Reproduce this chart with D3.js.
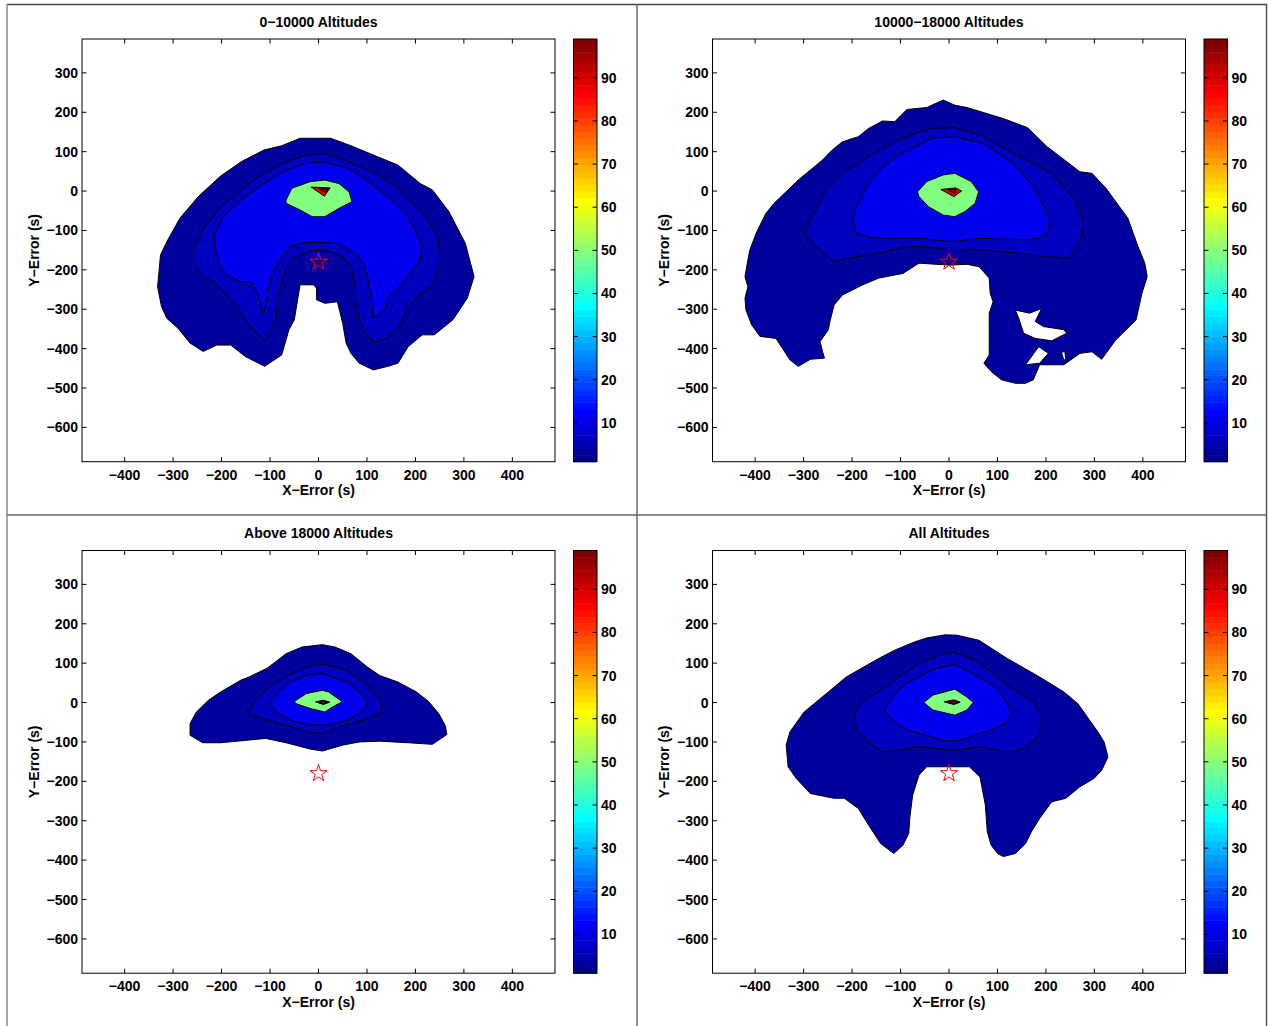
<!DOCTYPE html>
<html><head><meta charset="utf-8">
<script src="https://cdn.jsdelivr.net/npm/d3@7"></script>
<style>
body{margin:0;background:#fff}
svg{display:block}
text{font-family:"Liberation Sans",Arial,Helvetica,sans-serif;font-weight:bold;fill:#000}
</style>
</head><body>
<svg id="chart" width="1268" height="1026"></svg>
<script>
// ---------------- data ----------------
const titles = ["0\u221210000 Altitudes", "10000\u221218000 Altitudes", "Above 18000 Altitudes", "All Altitudes"];
const xLabel = "X\u2212Error (s)";
const yLabel = "Y\u2212Error (s)";
const xTicks = [-400, -300, -200, -100, 0, 100, 200, 300, 400];
const yTicks = [-600, -500, -400, -300, -200, -100, 0, 100, 200, 300];
const cbTicks = [10, 20, 30, 40, 50, 60, 70, 80, 90];
const xDomain = [-488, 488];
const yDomain = [-687, 386];
const cbDomain = [1, 99];
// value used to colour each filled contour band (outer -> peak)
const levelValues = [3, 6, 11, 49, 89, 96];
const starPoint = [0, -180];

// Panel 1: 0-10000
const p1Outer = [[-38,134],[25,134],[67,115],[122,87],[164,66],[210,19],[235,3],[269,-52],[303,-133],[321,-217],[307,-272],[277,-327],[239,-365],[214,-365],[185,-395],[164,-437],[143,-445],[113,-454],[84,-437],[67,-412],[57,-386],[50,-336],[39,-281],[13,-285],[-4,-276],[-4,-247],[-10,-238],[-38,-238],[-50,-327],[-61,-352],[-76,-416],[-111,-445],[-151,-420],[-181,-391],[-210,-391],[-238,-407],[-265,-386],[-290,-348],[-313,-323],[-324,-293],[-332,-243],[-326,-162],[-311,-124],[-286,-69],[-248,-14],[-202,38],[-160,74],[-113,104],[-76,115]];
const p1Mid = [[13,96],[63,74],[118,45],[164,7],[193,-31],[227,-74],[248,-124],[250,-183],[237,-238],[210,-260],[185,-293],[164,-348],[143,-374],[113,-384],[97,-361],[84,-327],[77,-276],[76,-238],[67,-192],[50,-167],[17,-151],[-17,-151],[-50,-167],[-67,-192],[-76,-234],[-84,-276],[-88,-327],[-97,-352],[-111,-382],[-134,-352],[-151,-327],[-168,-293],[-193,-260],[-213,-232],[-239,-217],[-254,-192],[-254,-141],[-239,-99],[-202,-40],[-160,3],[-113,45],[-67,74],[-29,90]];
const p1Inner = [[13,74],[63,57],[109,19],[151,-23],[185,-65],[214,-137],[210,-175],[185,-217],[164,-247],[143,-272],[139,-298],[113,-323],[109,-276],[103,-226],[92,-183],[76,-158],[42,-133],[-8,-130],[-42,-133],[-59,-141],[-76,-167],[-97,-209],[-105,-260],[-109,-285],[-113,-312],[-118,-293],[-126,-260],[-139,-230],[-160,-230],[-185,-217],[-202,-192],[-214,-141],[-214,-107],[-197,-65],[-160,-23],[-113,19],[-67,53],[-29,70]];
const p1Core = [[-67,-23],[-55,7],[-17,24],[13,28],[42,19],[63,-2],[69,-27],[42,-44],[13,-65],[-13,-65],[-38,-48],[-67,-31]];
const p1Peak = [[-15,10],[24,8],[12,-13]];
const p1Max = [[2,5],[20,6],[14,-4]];

// Panel 2: 10000-18000
const p2Outer = [[-12,231],[12,218],[37,212],[112,184],[162,161],[203,112],[270,49],[295,45],[324,7],[369,-69],[390,-141],[404,-183],[409,-217],[398,-260],[386,-327],[344,-378],[315,-427],[295,-408],[270,-412],[237,-441],[187,-441],[174,-479],[158,-488],[137,-488],[108,-479],[87,-458],[72,-437],[83,-416],[83,-310],[91,-281],[85,-260],[83,-221],[62,-192],[37,-186],[0,-188],[-62,-183],[-95,-209],[-145,-221],[-178,-238],[-220,-264],[-237,-289],[-245,-327],[-249,-352],[-266,-382],[-261,-407],[-257,-424],[-286,-427],[-311,-445],[-328,-429],[-357,-374],[-390,-369],[-407,-340],[-419,-302],[-421,-272],[-415,-243],[-421,-217],[-415,-175],[-411,-150],[-398,-107],[-378,-57],[-361,-31],[-311,28],[-261,79],[-241,104],[-220,125],[-187,138],[-166,159],[-137,178],[-112,176],[-87,207],[-46,212]];
const p2HoleA = [[137,-302],[166,-310],[191,-298],[178,-331],[195,-344],[237,-352],[243,-361],[212,-380],[178,-374],[154,-361],[145,-327]];
const p2HoleB = [[158,-441],[185,-395],[205,-412],[187,-437]];
const p2HoleC = [[232,-410],[239,-407],[241,-427],[237,-429]];
const p2Mid = [[-37,159],[12,161],[66,142],[108,112],[166,74],[212,45],[261,-23],[278,-78],[274,-116],[249,-171],[203,-167],[145,-158],[71,-150],[0,-148],[-62,-141],[-91,-141],[-145,-158],[-212,-171],[-237,-179],[-282,-133],[-295,-107],[-282,-65],[-253,3],[-212,53],[-162,91],[-104,129],[-62,150]];
const p2Inner = [[-37,134],[12,138],[71,121],[133,70],[174,11],[199,-48],[208,-78],[203,-103],[187,-120],[158,-124],[71,-120],[4,-128],[-62,-120],[-112,-120],[-162,-118],[-191,-107],[-199,-74],[-191,-40],[-170,11],[-145,53],[-104,91],[-62,117]];
const p2Core = [[-65,-2],[-46,24],[-12,41],[12,45],[46,24],[61,-2],[54,-31],[33,-52],[12,-65],[-12,-61],[-42,-40],[-62,-14]];
const p2Peak = [[-17,4],[14,8],[26,0],[10,-14]];
const p2Max = [[-2,3],[14,5],[12,-6]];

// Panel 3: above 18000
const p3Outer = [[8,147],[34,141],[67,124],[101,90],[126,69],[164,52],[202,27],[227,3],[248,-28],[261,-57],[265,-81],[235,-106],[185,-102],[126,-98],[84,-100],[50,-108],[8,-123],[-17,-118],[-67,-102],[-109,-91],[-151,-96],[-202,-102],[-239,-102],[-265,-83],[-265,-53],[-252,-24],[-227,6],[-202,27],[-160,57],[-143,65],[-105,88],[-67,124],[-34,141]];
const p3Mid = [[13,97],[59,82],[101,44],[132,-3],[130,-24],[92,-45],[42,-62],[8,-79],[-25,-74],[-67,-57],[-118,-41],[-143,-28],[-134,2],[-101,40],[-63,69],[-25,90]];
const p3Inner = [[8,74],[59,52],[88,23],[101,0],[88,-24],[59,-45],[17,-57],[-17,-57],[-59,-45],[-88,-24],[-101,0],[-80,31],[-59,52],[-25,69]];
const p3Core = [[-50,3],[-25,23],[8,31],[21,27],[49,2],[29,-11],[13,-24],[-17,-15],[-46,-3]];
const p3Peak = [[-6,2],[10,6],[23,1],[10,-5]];
const p3Max = [[-2,1],[10,4],[19,1],[10,-3]];

// Panel 4: all altitudes
const p4Outer = [[-8,172],[17,171],[62,158],[120,112],[187,65],[237,27],[266,-3],[307,-74],[320,-100],[328,-138],[315,-172],[299,-193],[270,-214],[241,-243],[212,-252],[187,-294],[170,-328],[158,-358],[137,-383],[112,-391],[100,-383],[87,-362],[79,-328],[75,-260],[64,-189],[42,-163],[0,-163],[-46,-163],[-62,-184],[-75,-235],[-81,-294],[-83,-332],[-95,-362],[-114,-383],[-141,-358],[-166,-311],[-187,-269],[-216,-243],[-237,-243],[-286,-231],[-315,-193],[-332,-163],[-336,-108],[-328,-74],[-299,-24],[-249,27],[-212,65],[-145,112],[-112,133],[-71,154],[-46,164]];
const p4Mid = [[12,127],[62,103],[120,44],[174,2],[187,-28],[187,-79],[166,-108],[137,-123],[116,-125],[62,-112],[12,-121],[-62,-112],[-95,-119],[-137,-125],[-166,-100],[-191,-66],[-195,-28],[-178,2],[-141,31],[-112,57],[-62,99],[-12,124]];
const p4Inner = [[12,97],[62,65],[95,40],[112,14],[130,-28],[116,-53],[87,-70],[62,-79],[37,-91],[12,-98],[-12,-96],[-46,-83],[-87,-70],[-112,-49],[-133,-24],[-125,2],[-95,44],[-62,65],[-29,86]];
const p4Core = [[-52,0],[-33,19],[12,34],[37,14],[50,0],[37,-19],[12,-32],[-33,-19]];
const p4Peak = [[-10,2],[10,7],[23,1],[10,-5]];
const p4Max = [[-5,1],[10,4],[19,1],[10,-3]];

const panelLevels = [
  [p1Outer, p1Mid, p1Inner, p1Core, p1Peak, p1Max],
  [p2Outer, p2Mid, p2Inner, p2Core, p2Peak, p2Max],
  [p3Outer, p3Mid, p3Inner, p3Core, p3Peak, p3Max],
  [p4Outer, p4Mid, p4Inner, p4Core, p4Peak, p4Max]
];
const panelHoles = [[], [p2HoleA, p2HoleB, p2HoleC], [], []];

// ---------------- jet colormap (64) ----------------
function jetTable(m) {
  const n = Math.ceil(m / 4);
  const u = [];
  for (let k = 1; k <= n; k++) u.push(k / n);
  for (let k = 1; k <= n - 1; k++) u.push(1);
  for (let k = n; k >= 1; k--) u.push(k / n);
  const g0 = Math.ceil(n / 2) - (m % 4 === 1 ? 1 : 0);
  const J = d3.range(m).map(() => [0, 0, 0]);
  u.forEach((val, k) => {
    const gi = g0 + k + 1, ri = gi + n, bi = gi - n;
    if (gi >= 1 && gi <= m) J[gi - 1][1] = val;
    if (ri >= 1 && ri <= m) J[ri - 1][0] = val;
    if (bi >= 1 && bi <= m) J[bi - 1][2] = val;
  });
  return J.map(c => d3.rgb(c[0] * 255, c[1] * 255, c[2] * 255).formatHex());
}
const JET = jetTable(64);
function jetColor(v) {
  const i = Math.max(0, Math.min(63, Math.floor((v - cbDomain[0]) / (cbDomain[1] - cbDomain[0]) * 64)));
  return JET[i];
}

// ---------------- drawing ----------------
const svg = d3.select("#chart");
const FS = 14;

// panel frames
const frame = svg.append("g").attr("fill", "none");
frame.append("line").attr("x1", 7).attr("x2", 1266.5).attr("y1", 4.5).attr("y2", 4.5).attr("stroke", "#444").attr("stroke-width", 1.5);
frame.append("line").attr("x1", 7).attr("x2", 7).attr("y1", 4).attr("y2", 1026).attr("stroke", "#8a8a8a").attr("stroke-width", 1.5);
frame.append("line").attr("x1", 637).attr("x2", 637).attr("y1", 4).attr("y2", 1026).attr("stroke", "#666").attr("stroke-width", 1.5);
frame.append("line").attr("x1", 7).attr("x2", 1266.5).attr("y1", 515).attr("y2", 515).attr("stroke", "#666").attr("stroke-width", 1.5);
frame.append("line").attr("x1", 1266.5).attr("x2", 1266.5).attr("y1", 4).attr("y2", 1026).attr("stroke", "#555").attr("stroke-width", 1.5);

const axW = 473, axH = 422.7;
const cbW = 23.5, cbGap = 18.5;
const tickLen = 4.5;

function starPath(cx, cy, R) {
  const r = R * 0.382;
  const pts = [];
  for (let k = 0; k < 10; k++) {
    const a = -Math.PI / 2 + k * Math.PI / 5;
    const rr = k % 2 === 0 ? R : r;
    pts.push([cx + rr * Math.cos(a), cy + rr * Math.sin(a)]);
  }
  return "M" + pts.map(p => p.join(",")).join("L") + "Z";
}
const fmt = t => t < 0 ? "\u2212" + Math.abs(t) : String(t);

for (let p = 0; p < 4; p++) {
  const col = p % 2, row = Math.floor(p / 2);
  const left = 82 + col * 630.5, top = 39 + row * 511.5;
  const g = svg.append("g");
  const x = d3.scaleLinear().domain(xDomain).range([left, left + axW]);
  const y = d3.scaleLinear().domain(yDomain).range([top + axH, top]);
  const line = d3.line().x(d => x(d[0])).y(d => y(d[1]));

  g.append("clipPath").attr("id", "clip" + p)
    .append("rect").attr("x", left).attr("y", top).attr("width", axW).attr("height", axH);
  const plot = g.append("g").attr("clip-path", `url(#clip${p})`);

  const levels = panelLevels[p];
  const drawPoly = (poly, fill) => plot.append("path")
    .attr("d", line(poly) + "Z")
    .attr("fill", fill).attr("stroke", "#000").attr("stroke-width", 1).attr("stroke-linejoin", "round");

  drawPoly(levels[0], jetColor(levelValues[0]));
  panelHoles[p].forEach(h => drawPoly(h, "#fff"));
  for (let i = 1; i < levels.length; i++) drawPoly(levels[i], jetColor(levelValues[i]));

  // star marker
  plot.append("path").attr("d", starPath(x(starPoint[0]), y(starPoint[1]), 9))
    .attr("fill", "none").attr("stroke", "#ff0000").attr("stroke-width", 1);

  // axes box
  g.append("rect").attr("x", left).attr("y", top).attr("width", axW).attr("height", axH)
    .attr("fill", "none").attr("stroke", "#000").attr("stroke-width", 1);

  // ticks (inward, all four sides)
  xTicks.forEach(t => {
    const xx = x(t);
    g.append("line").attr("x1", xx).attr("x2", xx).attr("y1", top + axH).attr("y2", top + axH - tickLen).attr("stroke", "#000");
    g.append("line").attr("x1", xx).attr("x2", xx).attr("y1", top).attr("y2", top + tickLen).attr("stroke", "#000");
    g.append("text").attr("x", xx).attr("y", top + axH + 18).attr("text-anchor", "middle")
      .attr("font-size", FS).text(fmt(t));
  });
  yTicks.forEach(t => {
    const yy = y(t);
    g.append("line").attr("x1", left).attr("x2", left + tickLen).attr("y1", yy).attr("y2", yy).attr("stroke", "#000");
    g.append("line").attr("x1", left + axW).attr("x2", left + axW - tickLen).attr("y1", yy).attr("y2", yy).attr("stroke", "#000");
    g.append("text").attr("x", left - 4).attr("y", yy + 5).attr("text-anchor", "end")
      .attr("font-size", FS).text(fmt(t));
  });

  // titles and labels
  g.append("text").attr("x", left + axW / 2).attr("y", top - 12.5).attr("text-anchor", "middle")
    .attr("font-size", FS).text(titles[p]);
  g.append("text").attr("x", left + axW / 2).attr("y", top + axH + 33.5).attr("text-anchor", "middle")
    .attr("font-size", FS).text(xLabel);
  g.append("text").attr("transform", `translate(${left - 43.5},${top + axH / 2}) rotate(-90)`)
    .attr("text-anchor", "middle").attr("font-size", FS).text(yLabel);

  // colorbar
  const cbx = left + axW + cbGap;
  const cy = d3.scaleLinear().domain(cbDomain).range([top + axH, top]);
  const step = (cbDomain[1] - cbDomain[0]) / 64;
  const cbg = g.append("g");
  cbg.selectAll("rect.band").data(JET).join("rect").attr("class", "band")
    .attr("x", cbx).attr("width", cbW)
    .attr("y", (d, i) => cy(cbDomain[0] + (i + 1) * step))
    .attr("height", (d, i) => cy(cbDomain[0] + i * step) - cy(cbDomain[0] + (i + 1) * step) + 0.5)
    .attr("fill", d => d);
  cbg.append("rect").attr("x", cbx).attr("y", top).attr("width", cbW).attr("height", axH)
    .attr("fill", "none").attr("stroke", "#000").attr("stroke-width", 1);
  cbTicks.forEach(t => {
    const yy = cy(t);
    cbg.append("line").attr("x1", cbx).attr("x2", cbx + tickLen).attr("y1", yy).attr("y2", yy).attr("stroke", "#000");
    cbg.append("line").attr("x1", cbx + cbW).attr("x2", cbx + cbW - tickLen).attr("y1", yy).attr("y2", yy).attr("stroke", "#000");
    cbg.append("text").attr("x", cbx + cbW + 4).attr("y", yy + 5).attr("font-size", FS).text(String(t));
  });
}
</script>
</body></html>
